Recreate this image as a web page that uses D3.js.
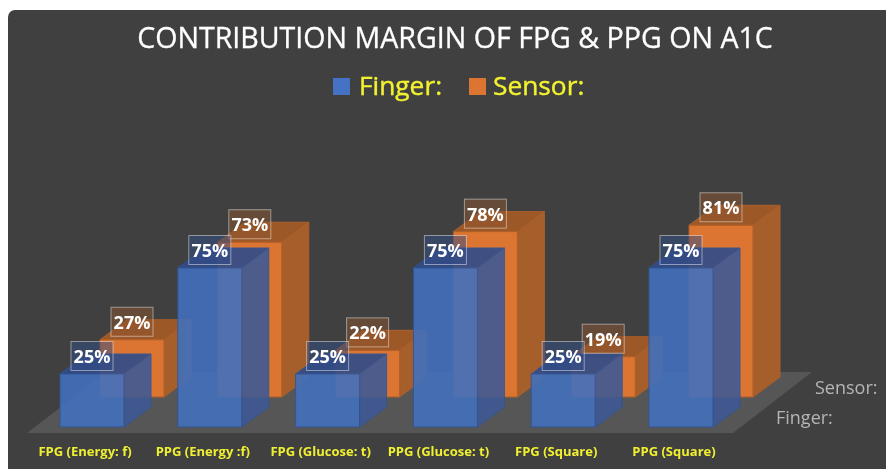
<!DOCTYPE html>
<html>
<head>
<meta charset="utf-8">
<script src="https://cdnjs.cloudflare.com/ajax/libs/d3/7.8.5/d3.min.js"></script>
<style>
html, body { margin: 0; padding: 0; background: #fff; }
svg { display: block; }
text { font-family: "Open Sans", "Noto Sans", sans-serif; }
</style>
</head>
<body>
<svg id="chart" width="886" height="469"></svg>
<script>
var categories = ["FPG (Energy: f)", "PPG (Energy :f)", "FPG (Glucose: t)", "PPG (Glucose: t)", "FPG (Square)", "PPG (Square)"];
var seriesNames = ["Finger:", "Sensor:"];
var fingerValues = [25, 75, 25, 75, 25, 75];
var sensorValues = [27, 73, 22, 78, 19, 81];

var svg = d3.select("#chart");

// soft look of the original screenshot
var blur = svg.append("defs").append("filter").attr("id", "soft");
blur.append("feGaussianBlur").attr("stdDeviation", "0.45");

var root = svg.append("g").style("filter", "url(#soft)");

root.append("rect")
    .attr("x", 8).attr("y", 10)
    .attr("width", 900).attr("height", 480)
    .attr("rx", 7)
    .attr("fill", "#404040");

// scales
var x = d3.scaleBand()
    .domain(categories)
    .range([60, 713])
    .paddingInner(1 - 64 / 117.8);
var y = d3.scaleLinear().domain([0, 100]).range([0, 212]);
var depthX = d3.scalePoint().domain(seriesNames).range([0, 40]);
var depthY = d3.scalePoint().domain(seriesNames).range([427, 397]);
var sideX = 27, sideY = 20;

function path(points) {
    return d3.line()(points) + "Z";
}

// floor
var floorLeft = 27, floorRight = 733, floorFront = 433, floorBack = 372;
root.append("path")
    .attr("d", path([[floorLeft, floorFront], [floorRight, floorFront], [812, floorBack], [106, floorBack]]))
    .attr("fill", "#565656");

function drawBars(name, values, c) {
    var g = root.append("g").attr("opacity", c.opacity);
    var bars = g.selectAll("g").data(values).enter().append("g");
    function left(d, i) { return x(categories[i]) + depthX(name); }
    var base = depthY(name);
    var w = x.bandwidth();

    bars.append("path")
        .attr("d", function(d, i) {
            var l = left(d, i), t = base - y(d);
            return path([[l + w, t], [l + w + sideX, t - sideY], [l + w + sideX, base - sideY], [l + w, base]]);
        })
        .attr("fill", c.side).attr("stroke", c.edge).attr("stroke-width", 1);
    bars.append("path")
        .attr("d", function(d, i) {
            var l = left(d, i), t = base - y(d);
            return path([[l, t], [l + sideX, t - sideY], [l + w + sideX, t - sideY], [l + w, t]]);
        })
        .attr("fill", c.top).attr("stroke", c.edge).attr("stroke-width", 1);
    bars.append("rect")
        .attr("x", left)
        .attr("y", function(d) { return base - y(d); })
        .attr("width", w)
        .attr("height", function(d) { return y(d); })
        .attr("fill", c.front).attr("stroke", c.edge).attr("stroke-width", 1);
}

function drawLabels(name, values, fill) {
    var labels = root.append("g").selectAll("g").data(values).enter().append("g")
        .attr("transform", function(d, i) {
            return "translate(" + (x(categories[i]) + depthX(name) + 32) + "," + (depthY(name) - y(d) - 17.5) + ")";
        });
    labels.append("rect")
        .attr("x", -21).attr("y", -15)
        .attr("width", 42).attr("height", 29)
        .attr("fill", fill)
        .attr("stroke", "#fff").attr("stroke-opacity", 0.45).attr("stroke-width", 1);
    labels.append("text")
        .attr("text-anchor", "middle")
        .attr("y", 6.5)
        .attr("font-size", 18)
        .attr("font-weight", 700)
        .attr("fill", "#fff")
        .text(function(d) { return d + "%"; });
}

drawBars("Sensor:", sensorValues, { front: "#dc7530", side: "#a65e2b", top: "#9c5826", edge: "#ae5f2a", opacity: 1 });
drawBars("Finger:", fingerValues, { front: "#4370bd", side: "#3f5a94", top: "#2f4c8a", edge: "#2f5597", opacity: 0.9 });

drawLabels("Sensor:", sensorValues, "rgba(140,85,45,0.5)");
drawLabels("Finger:", fingerValues, "rgba(50,75,135,0.5)");

// category labels
root.append("g").selectAll("text").data(categories).enter().append("text")
    .attr("x", function(d) { return x(d) + 25; })
    .attr("y", 456)
    .attr("text-anchor", "middle")
    .attr("font-size", 13)
    .attr("font-weight", 700)
    .attr("fill", "#f0f032")
    .text(function(d) { return d; });

// depth axis labels
root.append("text").attr("x", 815).attr("y", 394).attr("font-size", 18).attr("fill", "#b5b5b5").text(seriesNames[1]);
root.append("text").attr("x", 776).attr("y", 424).attr("font-size", 18).attr("fill", "#b5b5b5").text(seriesNames[0]);

// title
root.append("text")
    .attr("x", 455).attr("y", 48)
    .attr("text-anchor", "middle")
    .attr("font-size", 28.6)
    .attr("fill", "#fff")
    .attr("stroke", "#fff").attr("stroke-width", 0.3)
    .text("CONTRIBUTION MARGIN OF FPG & PPG ON A1C");

// legend
var legendSwatch = [333, 469], legendText = [359, 493], legendColor = ["#4472c4", "#dc7530"];
seriesNames.forEach(function(name, i) {
    root.append("rect")
        .attr("x", legendSwatch[i]).attr("y", 78)
        .attr("width", 17).attr("height", 17)
        .attr("fill", legendColor[i]);
    root.append("text")
        .attr("x", legendText[i]).attr("y", 95)
        .attr("font-size", 26.3)
        .attr("fill", "#f2f22e")
        .attr("stroke", "#f2f22e").attr("stroke-width", 0.4)
        .text(name);
});
</script>
</body>
</html>
